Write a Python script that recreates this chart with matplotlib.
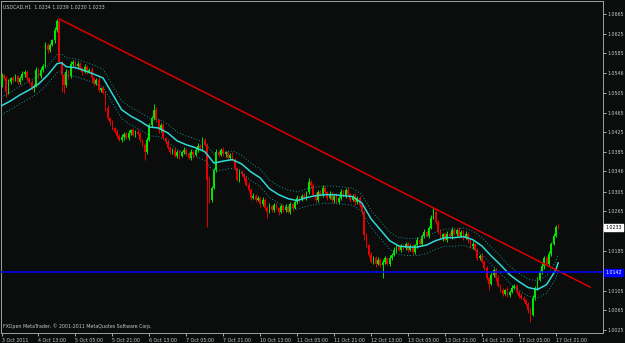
import numpy as np
import matplotlib.pyplot as plt
from matplotlib.transforms import blended_transform_factory

# chart header / footer text
title_text = "USDCAD,H1  1.0234 1.0239 1.0230 1.0233"
footer_text = "FXOpen MetaTrader, \u00a9 2001-2011 MetaQuotes Software Corp."

# H1 candles (first open, then closes per bar)
first_open = 1.0521
closes = [
    1.0541, 1.0535, 1.0507, 1.0527, 1.0535, 1.0531, 1.0539, 1.0527, 1.0535, 1.0543, 1.0548, 1.0535, 1.0527, 1.0515, 1.0519, 1.0552,
    1.0539, 1.0552, 1.0560, 1.0602, 1.0592, 1.0602, 1.0612, 1.0633, 1.0651, 1.0568, 1.0541, 1.0521, 1.0548, 1.0539, 1.0564, 1.0568,
    1.0560, 1.0564, 1.0556, 1.0548, 1.0558, 1.0548, 1.0552, 1.0535, 1.0523, 1.0531, 1.0511, 1.0515, 1.0505, 1.0475, 1.0454, 1.0446,
    1.0434, 1.0426, 1.0418, 1.0410, 1.0416, 1.0422, 1.0414, 1.0424, 1.0430, 1.0420, 1.0426, 1.0422, 1.0410, 1.0400, 1.0386, 1.0410,
    1.0440, 1.0454, 1.0471, 1.0450, 1.0430, 1.0440, 1.0414, 1.0406, 1.0394, 1.0386, 1.0390, 1.0378, 1.0386, 1.0378, 1.0386, 1.0390,
    1.0382, 1.0374, 1.0386, 1.0380, 1.0390, 1.0398, 1.0394, 1.0410, 1.0400, 1.0329, 1.0289, 1.0313, 1.0349, 1.0386, 1.0380, 1.0390,
    1.0382, 1.0386, 1.0374, 1.0380, 1.0370, 1.0353, 1.0329, 1.0345, 1.0341, 1.0333, 1.0319, 1.0309, 1.0293, 1.0297, 1.0289, 1.0293,
    1.0280, 1.0289, 1.0272, 1.0264, 1.0276, 1.0268, 1.0278, 1.0272, 1.0264, 1.0276, 1.0268, 1.0274, 1.0264, 1.0280, 1.0272, 1.0285,
    1.0293, 1.0289, 1.0297, 1.0293, 1.0305, 1.0325, 1.0319, 1.0299, 1.0289, 1.0305, 1.0299, 1.0313, 1.0305, 1.0293, 1.0301, 1.0289,
    1.0297, 1.0285, 1.0293, 1.0305, 1.0297, 1.0309, 1.0301, 1.0289, 1.0297, 1.0285, 1.0293, 1.0278, 1.0264, 1.0218, 1.0197, 1.0177,
    1.0163, 1.0171, 1.0159, 1.0167, 1.0157, 1.0163, 1.0171, 1.0159, 1.0171, 1.0177, 1.0187, 1.0195, 1.0187, 1.0195, 1.0191, 1.0200,
    1.0187, 1.0195, 1.0183, 1.0197, 1.0208, 1.0200, 1.0216, 1.0224, 1.0216, 1.0232, 1.0252, 1.0264, 1.0244, 1.0224, 1.0212, 1.0220,
    1.0208, 1.0220, 1.0216, 1.0228, 1.0220, 1.0228, 1.0216, 1.0224, 1.0212, 1.0220, 1.0208, 1.0195, 1.0200, 1.0187, 1.0171, 1.0175,
    1.0163, 1.0151, 1.0131, 1.0119, 1.0137, 1.0147, 1.0131, 1.0115, 1.0107, 1.0098, 1.0107, 1.0096, 1.0102, 1.0111, 1.0115, 1.0102,
    1.0094, 1.0090, 1.0086, 1.0078, 1.0066, 1.0056, 1.0090, 1.0111, 1.0127, 1.0143, 1.0155, 1.0171, 1.0159, 1.0179, 1.0200, 1.0216,
    1.0234, 1.0233,
]
# wick lengths in pips above / below the body
upper_wick = [
    5, 3, 4, 6, 3, 4, 5, 2, 4, 6, 3, 4, 2, 5, 3, 6,
    4, 5, 3, 6, 4, 5, 3, 6, 4, 3, 2, 4, 5, 3, 6, 4,
    3, 5, 4, 2, 6, 3, 4, 5, 3, 4, 6, 2, 4, 3, 5, 3,
    4, 2, 5, 3, 6, 4, 3, 5, 2, 4, 3, 5, 4, 2, 3, 6,
    5, 4, 12, 6, 3, 5, 4, 2, 5, 3, 4, 6, 3, 4, 2, 5,
    3, 4, 5, 2, 4, 6, 3, 6, 4, 3, 5, 4, 3, 6, 4, 3,
    5, 2, 4, 3, 6, 4, 3, 5, 4, 2, 3, 5, 4, 6, 3, 4,
    2, 5, 3, 4, 6, 3, 4, 5, 2, 4, 3, 6, 4, 5, 3, 4,
    5, 3, 4, 6, 2, 8, 4, 3, 5, 4, 3, 6, 4, 2, 5, 3,
    4, 5, 3, 6, 4, 3, 5, 2, 4, 6, 3, 4, 5, 3, 4, 2,
    5, 3, 4, 6, 3, 5, 4, 2, 5, 3, 6, 4, 3, 5, 2, 4,
    3, 5, 4, 2, 6, 4, 3, 5, 4, 3, 6, 8, 4, 3, 5, 2,
    4, 6, 3, 5, 4, 2, 5, 3, 4, 6, 3, 4, 5, 2, 4, 3,
    5, 3, 4, 2, 6, 4, 3, 5, 4, 3, 2, 5, 4, 6, 3, 4,
    3, 5, 4, 2, 4, 3, 5, 4, 6, 3, 5, 4, 3, 6, 4, 5,
    4, 5,
]
lower_wick = [
    4, 3, 10, 5, 3, 4, 2, 5, 3, 4, 6, 3, 5, 4, 8, 3,
    5, 3, 4, 2, 6, 4, 3, 5, 4, 3, 34, 16, 4, 5, 3, 4,
    3, 5, 4, 6, 3, 4, 2, 5, 4, 3, 5, 4, 3, 6, 4, 5,
    4, 3, 5, 2, 4, 6, 3, 5, 4, 3, 4, 2, 5, 3, 16, 4,
    3, 5, 4, 3, 6, 4, 2, 5, 3, 4, 5, 3, 4, 6, 3, 4,
    5, 3, 4, 6, 3, 4, 2, 5, 3, 95, 6, 4, 3, 5, 4, 3,
    4, 6, 3, 5, 2, 4, 3, 5, 4, 6, 3, 4, 5, 3, 4, 2,
    5, 3, 4, 12, 3, 5, 4, 2, 6, 3, 4, 5, 3, 4, 6, 3,
    4, 5, 3, 2, 5, 4, 6, 3, 4, 5, 3, 4, 2, 5, 3, 4,
    6, 3, 4, 5, 3, 4, 2, 5, 3, 6, 4, 3, 5, 10, 4, 5,
    3, 4, 6, 3, 5, 26, 4, 3, 5, 4, 2, 6, 3, 4, 5, 3,
    4, 3, 5, 4, 6, 3, 4, 5, 3, 4, 2, 3, 5, 4, 3, 6,
    3, 5, 4, 6, 3, 4, 5, 2, 4, 3, 6, 4, 5, 3, 4, 5,
    3, 4, 5, 12, 3, 4, 6, 3, 5, 4, 3, 5, 4, 2, 3, 5,
    4, 3, 5, 4, 6, 14, 3, 4, 5, 3, 4, 6, 3, 4, 5, 3,
    3, 3,
]

# moving average (cyan) sampled every few bars
ma_bars = [0, 4, 8, 12, 16, 20, 24, 26, 28, 32, 36, 40, 44, 48, 52, 56, 60, 64, 68, 72, 76, 80, 84, 88,
           92, 96, 100, 104, 108, 112, 116, 120, 124, 128, 132, 136, 140, 144, 148, 152, 156, 160, 164,
           168, 172, 176, 180, 184, 188, 192, 196, 200, 204, 208, 212, 216, 220, 224, 228, 232, 236, 240, 241]
ma_values = [1.0479, 1.0489, 1.0501, 1.0511, 1.0523, 1.0541, 1.0564, 1.0566, 1.0558, 1.0556, 1.0550, 1.0543,
             1.0535, 1.0503, 1.0471, 1.0458, 1.0448, 1.0436, 1.0434, 1.0424, 1.0408, 1.0400, 1.0394, 1.0386,
             1.0363, 1.0367, 1.0370, 1.0361, 1.0345, 1.0333, 1.0311, 1.0299, 1.0291, 1.0287, 1.0293, 1.0297,
             1.0299, 1.0299, 1.0297, 1.0295, 1.0282, 1.0250, 1.0228, 1.0206, 1.0195, 1.0193, 1.0193, 1.0197,
             1.0206, 1.0212, 1.0212, 1.0214, 1.0208, 1.0195, 1.0175, 1.0157, 1.0137, 1.0123, 1.0111, 1.0107,
             1.0117, 1.0147, 1.0161]
envelope_pct = 0.17

# trend line and horizontal level
trend_bars = [24.9, 254.8]
trend_prices = [1.0655, 1.0112]
support_level = 1.0142
last_price = 1.0233

date_labels = ["3 Oct 2011", "4 Oct 13:00", "5 Oct 05:00", "5 Oct 21:00", "6 Oct 13:00", "7 Oct 05:00",
               "7 Oct 21:00", "10 Oct 13:00", "11 Oct 05:00", "11 Oct 21:00", "12 Oct 13:00", "13 Oct 05:00",
               "13 Oct 21:00", "14 Oct 13:00", "17 Oct 05:00", "17 Oct 21:00"]
price_labels = ["1.0665", "1.0625", "1.0585", "1.0546", "1.0505", "1.0465", "1.0425", "1.0385", "1.0346",
                "1.0305", "1.0265", "1.0185", "1.0105", "1.0065", "1.0025"]

bg = "#0a0d0c"
fg = "#c8c8c8"
bull = "#00e600"
bear = "#e60000"
fs = 3.4

fig = plt.figure(figsize=(6.25, 3.43), dpi=100, facecolor=bg)
ax = fig.add_axes([1 / 625, 10 / 343, 602 / 625, 332 / 343], facecolor=bg)

c = np.array(closes)
o = np.concatenate([[first_open], c[:-1]])
hi = np.maximum(o, c) + np.array(upper_wick) * 0.0001
lo = np.minimum(o, c) - np.array(lower_wick) * 0.0001
x = np.arange(len(c))
cols = np.where(c >= o, bull, bear)

ax.vlines(x, lo, hi, colors=cols, lw=0.7, zorder=3)
ax.bar(x, np.maximum(np.abs(c - o), 0.00012), bottom=np.minimum(o, c), width=0.75,
       color=cols, linewidth=0, zorder=3)

# moving average + envelopes
ma = np.array(ma_values)
ax.plot(ma_bars, ma, color="#30d8d8", lw=1.1, zorder=4)
ax.plot(ma_bars, ma * (1 + envelope_pct / 100), color="#1a9090", lw=0.7, ls=(0, (1, 2)), zorder=4)
ax.plot(ma_bars, ma * (1 - envelope_pct / 100), color="#1a9090", lw=0.7, ls=(0, (1, 2)), zorder=4)

ax.plot(trend_bars, trend_prices, color="#dd0000", lw=1.1, zorder=5)
ax.axhline(support_level, color="#0000ff", lw=1.1, zorder=5)

ax.set_xlim(-0.22, 260.4)
ax.set_ylim(1.0019, 1.0691)

for s in ax.spines.values():
    s.set_color("#a0a0a0")
    s.set_linewidth(0.7)

ax.set_xticks(np.arange(len(date_labels)) * 16)
ax.set_xticklabels(date_labels, ha="left")
ax.yaxis.tick_right()
ax.set_yticks([float(p) for p in price_labels])
ax.set_yticklabels(price_labels)
ax.tick_params(colors=fg, labelsize=fs, length=2, width=0.6, pad=1)
ax.tick_params(axis="x", pad=1.5)

ax.text(0.004, 0.982, title_text, transform=ax.transAxes, color=fg, fontsize=fs, va="center", ha="left")
ax.text(0.004, 0.021, footer_text, transform=ax.transAxes, color=fg, fontsize=fs, va="center", ha="left")

tr = blended_transform_factory(ax.transAxes, ax.transData)
ax.text(1.004, last_price, f"{last_price:.4f}", transform=tr, color="black", fontsize=fs, va="center",
        ha="left", clip_on=False, bbox=dict(boxstyle="square,pad=0.25", fc="white", ec="white"))
ax.text(1.004, support_level, f"{support_level:.4f}", transform=tr, color="white", fontsize=fs, va="center",
        ha="left", clip_on=False, bbox=dict(boxstyle="square,pad=0.25", fc="#0000ff", ec="#0000ff"))

fig.savefig("out.png", dpi=100, facecolor=bg)
